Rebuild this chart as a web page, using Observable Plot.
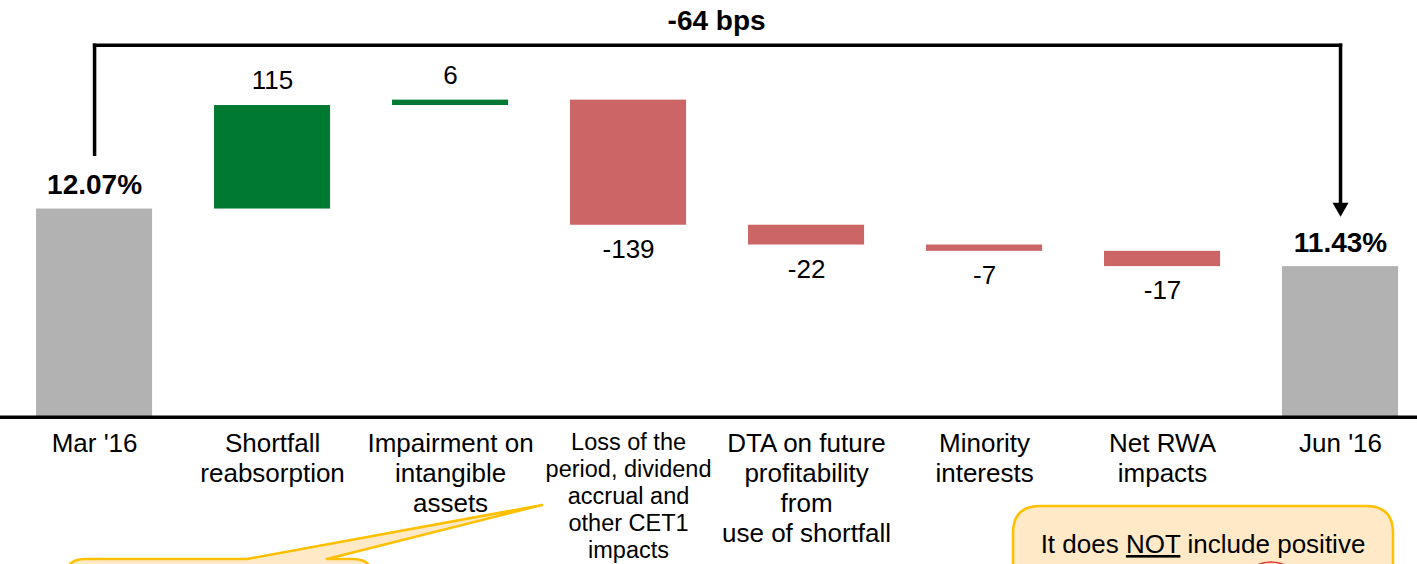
<!DOCTYPE html>
<html>
<head>
<meta charset="utf-8">
<script src="https://cdn.jsdelivr.net/npm/d3@7"></script>
<script src="https://cdn.jsdelivr.net/npm/@observablehq/plot@0.6"></script>
<style>
  html, body { margin: 0; padding: 0; background: #fff; overflow: hidden; }
  #wrap { position: relative; width: 1417px; height: 564px; }
  #overlay { position: absolute; left: 0; top: 0; pointer-events: none; }
</style>
</head>
<body>
<div id="wrap"></div>
<script>
// ---------- data (CET1 ratio, in basis points) ----------
const categories = [
  "Mar '16",
  "Shortfall\nreabsorption",
  "Impairment on\nintangible\nassets",
  "Loss of the\nperiod, dividend\naccrual and\nother CET1\nimpacts",
  "DTA on future\nprofitability\nfrom\nuse of shortfall",
  "Minority\ninterests",
  "Net RWA\nimpacts",
  "Jun '16"
];
const kinds = ["total", "delta", "delta", "delta", "delta", "delta", "delta", "total"];
const values = [1207, 115, 6, -139, -22, -7, -17, 1143];
const valueLabels = ["12.07%", "115", "6", "-139", "-22", "-7", "-17", "11.43%"];
const smallLabel = [false, false, false, true, false, false, false, false];
const changeLabel = "-64 bps";

// ---------- derived waterfall table ----------
let run = 0;
const rows = categories.map((cat, i) => {
  let y1, y2;
  if (kinds[i] === "total") { y1 = 0; y2 = values[i]; run = values[i]; }
  else { y1 = run; y2 = run + values[i]; run = y2; }
  return {cat, kind: kinds[i], value: values[i], y1, y2, label: valueLabels[i], small: smallLabel[i]};
});
const totals = rows.filter(d => d.kind === "total");
const deltas = rows.filter(d => d.kind === "delta");
const first = totals[0], last = totals[totals.length - 1];
const bracketLevel = d3.max(deltas, d => Math.max(d.y1, d.y2)) + 61;
const bracket = [{x1: first.cat, x2: last.cat, y: bracketLevel}];

const font = "'Liberation Sans', Arial, Helvetica, sans-serif";
const GREEN = "#007A33", RED = "#CC6666", GRAY = "#B2B2B2";

const plot = Plot.plot({
  width: 1417,
  height: 564,
  marginTop: 0,
  marginBottom: 147.3,
  marginLeft: 0,
  marginRight: 0,
  style: {fontFamily: font, background: "transparent", color: "#000"},
  x: {domain: categories, range: [-25.9, 1460], paddingInner: 0.348, paddingOuter: 0.348, round: false, axis: null},
  y: {domain: [975.7, 1438.7], axis: null},
  marks: [
    // total bars (axis is truncated, bars clipped at the baseline)
    Plot.barY(totals, {x: "cat", y1: "y1", y2: "y2", fill: GRAY, clip: true}),
    // floating change bars
    Plot.barY(deltas, {x: "cat", y1: "y1", y2: "y2", fill: d => d.value >= 0 ? GREEN : RED}),
    // baseline
    Plot.frame({anchor: "bottom", stroke: "#000", strokeWidth: 3.5}),
    // category labels
    Plot.text(rows.filter(d => !d.small), {x: "cat", text: "cat", frameAnchor: "bottom", lineAnchor: "top",
      textAnchor: "middle", dy: 14, fontSize: 26, lineHeight: 1.15, fill: "#000"}),
    Plot.text(rows.filter(d => d.small), {x: "cat", text: "cat", frameAnchor: "bottom", lineAnchor: "top",
      textAnchor: "middle", dy: 14, fontSize: 23.5, lineHeight: 1.15, fill: "#000"}),
    // change labels
    Plot.text(deltas.filter(d => d.value >= 0), {x: "cat", y: "y2", text: "label", dy: -24.5, fontSize: 26, fill: "#000"}),
    Plot.text(deltas.filter(d => d.value < 0), {x: "cat", y: "y2", text: "label", dy: 24.5, fontSize: 26, fill: "#000"}),
    // total labels
    Plot.text(totals, {x: "cat", y: "y2", text: "label", dy: -24, fontSize: 28, fontWeight: "bold", fill: "#000"}),
    // bracket
    Plot.arrow(bracket, {x1: "x1", x2: "x2", y: "y", insetStart: -1.7, insetEnd: -1.7,
      headLength: 0, stroke: "#000", strokeWidth: 3.5, strokeLinecap: "butt"}),
    Plot.arrow([first], {x: "cat", y1: "y2", y2: () => bracketLevel, insetStart: 53, insetEnd: -1.7,
      headLength: 0, stroke: "#000", strokeWidth: 3.5, strokeLinecap: "butt"}),
    Plot.arrow([last], {x: "cat", y1: () => bracketLevel, y2: "y2", insetStart: -1.7, insetEnd: 62,
      headLength: 0, stroke: "#000", strokeWidth: 3.5, strokeLinecap: "butt"}),
    Plot.dot([last], {x: "cat", y: "y2", dy: -59.2, symbol: "triangle", rotate: 180, r: 5.94, fill: "#000", stroke: null}),
    Plot.text(bracket, {text: () => changeLabel, x: "x1", y: "y", textAnchor: "middle",
      dx: 622, dy: -24, fontSize: 28, fontWeight: "bold", fill: "#000"})
  ]
});

const wrap = document.getElementById("wrap");
wrap.appendChild(plot);

// ---------- call-out boxes (annotations, partially cut off at the bottom) ----------
const ov = d3.select(wrap).append("svg").attr("id", "overlay")
  .attr("width", 1417).attr("height", 564);
const PEACH = "#FFE9C6", GOLD = "#FFC000";
ov.append("path")
  .attr("d", "M65,620 L65,579 Q65,559 85,559 L247,559 L542,505 L327,559 L353,559 Q373,559 373,579 L373,620 Z")
  .attr("fill", PEACH).attr("stroke", GOLD).attr("stroke-width", 2.5).attr("stroke-linejoin", "round");
ov.append("path")
  .attr("d", "M1013,620 L1013,533 Q1013,506 1040,506 L1366,506 Q1393,506 1393,533 L1393,620 Z")
  .attr("fill", PEACH).attr("stroke", GOLD).attr("stroke-width", 2.5);
ov.append("ellipse").attr("cx", 1271).attr("cy", 592).attr("rx", 31).attr("ry", 30)
  .attr("fill", "none").attr("stroke", "#E03A3A").attr("stroke-width", 1.6);
const t = ov.append("text").attr("x", 1203).attr("y", 553).attr("text-anchor", "middle")
  .attr("font-family", font).attr("font-size", 26).attr("fill", "#000");
t.append("tspan").text("It does ");
t.append("tspan").attr("text-decoration", "underline").text("NOT");
t.append("tspan").text(" include positive");
</script>
</body>
</html>
